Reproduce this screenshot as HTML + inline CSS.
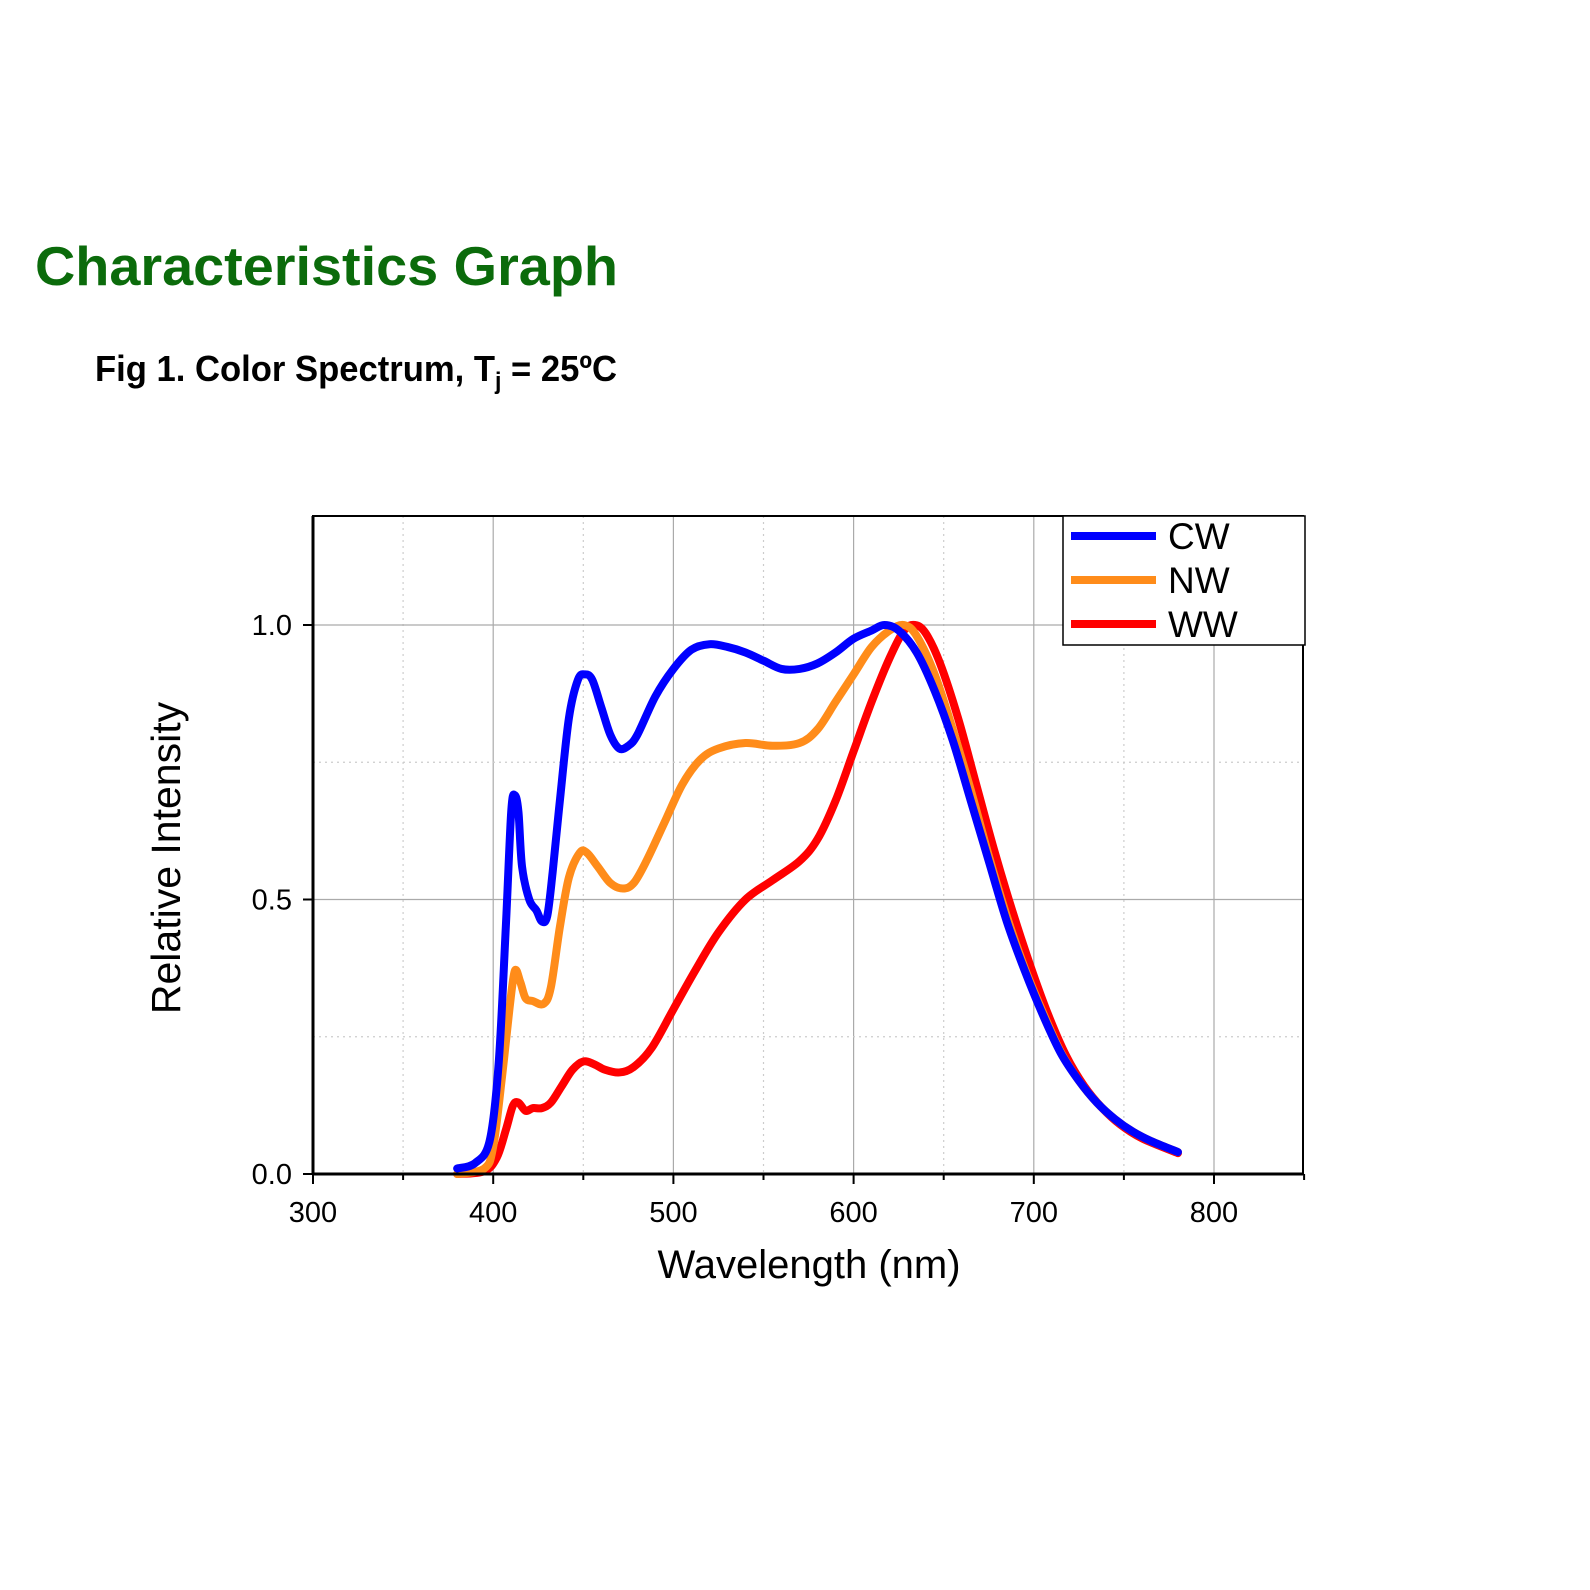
<!DOCTYPE html>
<html><head><meta charset="utf-8"><style>
html,body{margin:0;padding:0;background:#fff;}
svg{display:block;}
</style></head><body>
<svg id="s" width="1590" height="1590" xmlns="http://www.w3.org/2000/svg" font-family="Liberation Sans, Arial, sans-serif">
<text x="35" y="285" font-size="55" font-weight="bold" fill="#0b6b0b" textLength="583" lengthAdjust="spacingAndGlyphs">Characteristics Graph</text>
<text x="95" y="381" font-size="36" font-weight="bold" fill="#000" textLength="522" lengthAdjust="spacingAndGlyphs">Fig 1. Color Spectrum, T<tspan font-size="24" dy="8">j</tspan><tspan dy="-8"> = 25ºC</tspan></text>
<g id="grid"></g>
<g id="curves" fill="none" stroke-linejoin="round" stroke-linecap="round" stroke-width="8"></g>
<rect x="313" y="516" width="990" height="658" fill="none" stroke="#000" stroke-width="2"/>
<line x1="313" y1="1174" x2="1303" y2="1174" stroke="#000" stroke-width="3"/>
<line x1="313" y1="516" x2="313" y2="1174" stroke="#000" stroke-width="3"/>
<g id="ticks" stroke="#000" stroke-width="2"></g>
<g font-size="29" fill="#000" id="labels"></g>
<text transform="translate(180,858) rotate(-90)" text-anchor="middle" font-size="41">Relative Intensity</text>
<text x="809" y="1278" text-anchor="middle" font-size="40">Wavelength (nm)</text>
<rect x="1063" y="516" width="242" height="129" fill="#fff" stroke="#000" stroke-width="1.5"/>
<line x1="1071" y1="536" x2="1156" y2="536" stroke="#0000ff" stroke-width="8"/>
<line x1="1071" y1="580" x2="1156" y2="580" stroke="#ff8c1a" stroke-width="8"/>
<line x1="1071" y1="624" x2="1156" y2="624" stroke="#ff0000" stroke-width="8"/>
<text x="1168" y="549" font-size="37">CW</text>
<text x="1168" y="593" font-size="37">NW</text>
<text x="1168" y="637" font-size="37">WW</text>
</svg>
<script>
const X=n=>313+(n-300)*1.802, Y=v=>1174-v*549;
const NS="http://www.w3.org/2000/svg";
function el(p,t,a,txt){const e=document.createElementNS(NS,t);for(const k in a)e.setAttribute(k,a[k]);if(txt!=null)e.textContent=txt;document.getElementById(p).appendChild(e);return e;}
for(let n=350;n<=800;n+=50){const major=n%100==0;el('grid','line',{x1:X(n),x2:X(n),y1:516,y2:1174,stroke:major?'#aaa':'#ccc','stroke-width':1.2,'stroke-dasharray':major?'':'2,4'});}
[0.25,0.5,0.75,1.0].forEach(v=>{const major=(v==0.5||v==1);el('grid','line',{x1:313,x2:1303,y1:Y(v),y2:Y(v),stroke:major?'#aaa':'#ccc','stroke-width':1.2,'stroke-dasharray':major?'':'2,4'});});
for(let n=300;n<=850;n+=50){const major=n%100==0;el('ticks','line',{x1:X(n),x2:X(n),y1:1174,y2:1174+(major?10:6)});if(major&&n<=800)el('labels','text',{x:X(n),y:1222,'text-anchor':'middle'},String(n));}
[0,0.5,1].forEach(v=>{el('ticks','line',{x1:313,x2:303,y1:Y(v),y2:Y(v)});el('labels','text',{x:292,y:Y(v)+10,'text-anchor':'end'},v.toFixed(1));});
const CW=[[380,0.01],[390,0.02],[398,0.06],[403,0.2],[407,0.45],[410,0.66],[412,0.69],[414,0.66],[416,0.56],[420,0.5],[424,0.48],[427,0.46],[430,0.47],[433,0.55],[437,0.68],[442,0.83],[447,0.9],[451,0.91],[455,0.9],[460,0.85],[465,0.8],[470,0.775],[475,0.78],[480,0.8],[490,0.87],[500,0.92],[510,0.955],[520,0.965],[530,0.96],[540,0.95],[550,0.935],[560,0.92],[570,0.92],[580,0.93],[590,0.95],[600,0.975],[610,0.99],[617,1.0],[625,0.99],[635,0.95],[645,0.88],[655,0.79],[665,0.68],[675,0.57],[685,0.46],[695,0.37],[705,0.29],[715,0.22],[725,0.17],[735,0.13],[745,0.1],[755,0.077],[765,0.06],[780,0.04]];
const NW=[[380,0],[395,0.01],[400,0.05],[405,0.18],[409,0.3],[412,0.37],[415,0.35],[418,0.32],[422,0.315],[428,0.31],[432,0.34],[437,0.45],[442,0.54],[448,0.585],[452,0.585],[458,0.56],[465,0.53],[472,0.52],[478,0.53],[485,0.57],[495,0.64],[505,0.71],[515,0.755],[525,0.775],[540,0.785],[555,0.78],[570,0.785],[580,0.81],[590,0.86],[600,0.91],[610,0.96],[620,0.99],[628,1.0],[635,0.98],[645,0.91],[655,0.81],[665,0.7],[675,0.58],[685,0.47],[695,0.375],[705,0.295],[715,0.222],[725,0.17],[735,0.13],[745,0.1],[755,0.077],[765,0.06],[780,0.04]];
const WW=[[380,0],[395,0.005],[402,0.03],[407,0.08],[411,0.125],[414,0.13],[418,0.115],[422,0.12],[427,0.12],[432,0.13],[438,0.16],[444,0.19],[450,0.205],[456,0.2],[462,0.19],[470,0.185],[478,0.195],[488,0.23],[500,0.3],[512,0.37],[525,0.44],[540,0.5],[555,0.535],[570,0.57],[580,0.61],[590,0.68],[600,0.77],[610,0.86],[620,0.94],[628,0.99],[634,1.0],[640,0.985],[648,0.93],[658,0.83],[668,0.71],[678,0.59],[688,0.48],[698,0.38],[708,0.29],[718,0.215],[728,0.16],[738,0.12],[748,0.09],[760,0.065],[780,0.038]];
function path(d){let p=d.map(q=>[X(q[0]),Y(q[1])]);let s='M'+p[0].join(',');for(let i=0;i<p.length-1;i++){const p0=p[i-1]||p[i],p1=p[i],p2=p[i+1],p3=p[i+2]||p2;const c1=[p1[0]+(p2[0]-p0[0])/6,p1[1]+(p2[1]-p0[1])/6],c2=[p2[0]-(p3[0]-p1[0])/6,p2[1]-(p3[1]-p1[1])/6];s+='C'+c1.join(',')+' '+c2.join(',')+' '+p2.join(',');}return s;}
el('curves','path',{d:path(WW),stroke:'#ff0000'});
el('curves','path',{d:path(NW),stroke:'#ff8c1a'});
el('curves','path',{d:path(CW),stroke:'#0000ff'});
</script>
</body></html>
